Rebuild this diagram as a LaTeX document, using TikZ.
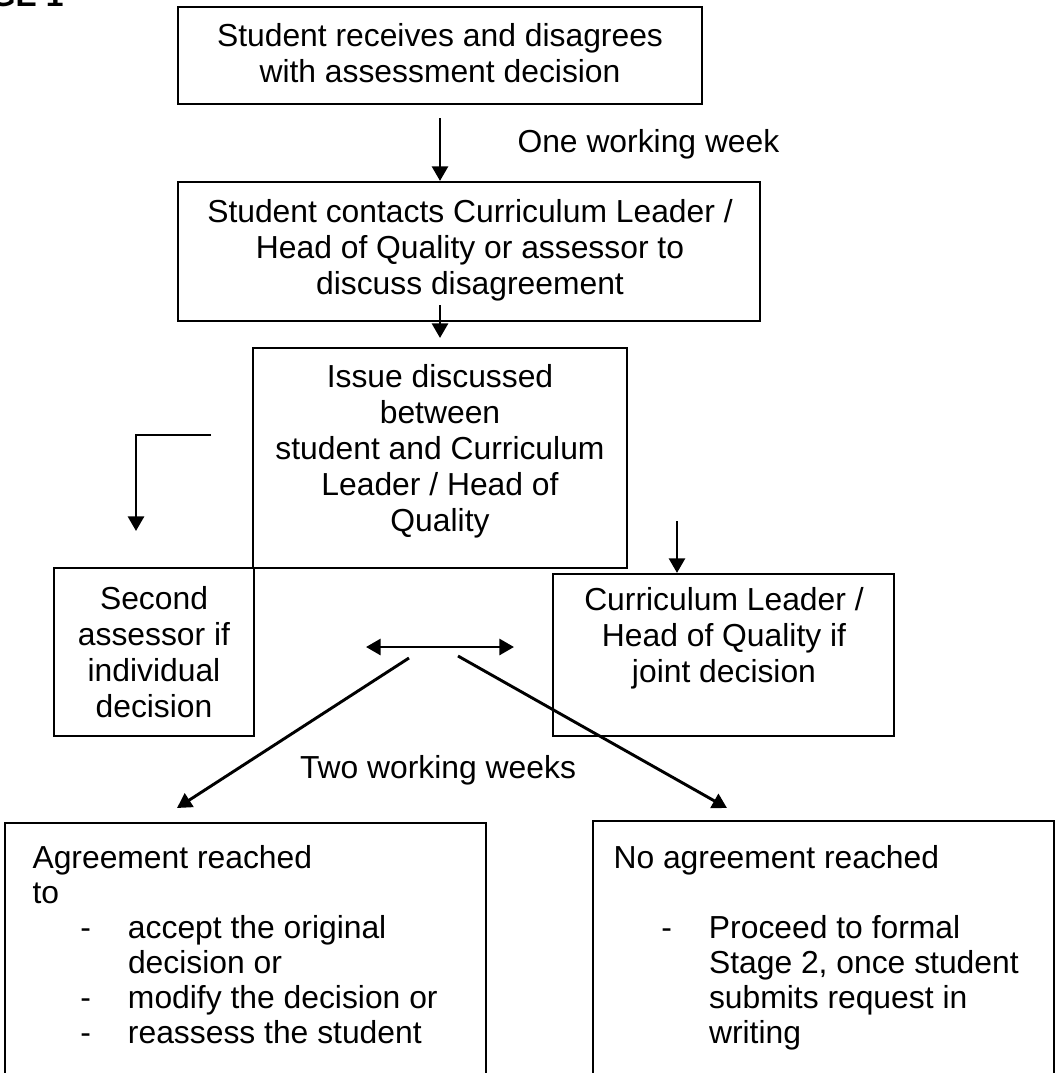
\documentclass[tikz,border=0pt]{standalone}
\usepackage{fontspec}
\setmainfont{Liberation Sans}
\usetikzlibrary{arrows.meta,fit}
\newcommand{\dashitem}{\makebox[36pt][l]{\hspace*{18pt}-}}
\newcommand{\hangline}{\hspace*{36pt}}

\begin{document}
\begin{tikzpicture}
[%%%%%%%%%%%%%%%%%%%%%%%%%%%%%%
x=0.377pt,y=-0.377pt,
every node/.style={font=\fontsize{12pt}{13.6pt}\selectfont},
box/.style={rectangle,draw=black,line width=0.8pt,inner sep=0pt},
txt/.style={align=center,inner sep=0pt},
lst/.style={align=left,inner sep=0pt,anchor=north west,font=\fontsize{12pt}{13.2pt}\selectfont},
arr/.style={line width=1.1pt,-{Triangle[length=5.5pt,width=6pt]}},
dbl/.style={line width=1.1pt,{Triangle[length=5.5pt,width=6pt]}-{Triangle[length=5.5pt,width=6pt]}},
]%%%%%%%%%%%%%%%%%%%%%%%%%%%%%%
\useasboundingbox (0,0) rectangle (1056,1073);
\clip (0,0) rectangle (1056,1073);

\node[anchor=base east,inner sep=0pt,font=\fontsize{12pt}{13.6pt}\selectfont\bfseries] (stage) at (64,6) {STAGE 1};

% boxes
\node[box,fit={(178,7) (702,104)}] (rec) {};
\node[box,fit={(178,182) (760,321)}] (con) {};
\node[box,fit={(253,348) (627,568)}] (iss) {};
\node[box,fit={(54,568) (254,736)}] (sec) {};
\node[box,fit={(553,574) (894,736)}] (cur) {};
\node[box,fit={(5,823) (486,1095)}] (agr) {};
\node[box,fit={(593,821) (1054,1095)}] (noag) {};

% texts
\node[txt] (rectxt) at (440,53.5) {Student receives and disagrees\\with assessment decision};
\node[txt] (contxt) at (470,250) {Student contacts Curriculum Leader /\\Head of Quality or assessor to\\discuss disagreement};
\node[txt] (isstxt) at (440,451.5) {Issue discussed\\between\\student and Curriculum\\Leader / Head of\\Quality};
\node[txt] (sectxt) at (154,652.5) {Second\\assessor if\\individual\\decision};
\node[txt] (curtxt) at (724,638) {Curriculum Leader /\\Head of Quality if\\joint decision};
\node[anchor=base west,inner sep=0pt] (week1) at (517,152) {One working week};
\node[anchor=base,inner sep=0pt] (week2) at (438,778) {Two working weeks};
\node[lst] (agrtxt) at (32,845) {Agreement reached\\to\\\dashitem accept the original\\\hangline decision or\\\dashitem modify the decision or\\\dashitem reassess the student};
\node[lst] (noagtxt) at (613,845) {No agreement reached\\[13.2pt]\dashitem Proceed to formal\\\hangline Stage 2, once student\\\hangline submits request in\\\hangline writing};

% arrows
\coordinate (c1) at (440,305);
\coordinate (c2) at (440,338);
\coordinate (l1) at (211,435);
\coordinate (l2) at (136,531);
\coordinate (j1) at (677,521);
\coordinate (h1) at (366,647);
\coordinate (h2) at (514,647);
\coordinate (dl1) at (409,658);
\coordinate (dl2) at (177,808);
\coordinate (dr1) at (458,656);
\coordinate (dr2) at (727,808);

\draw[arr,shorten <=4.9pt] (rec.south) -- (rec.south |- con.north);
\draw[arr] (c1) -- (c2);
\draw[arr] (l1) -| (l2);
\draw[arr] (j1) -- (j1 |- cur.north);
\draw[dbl] (h1) -- (h2);
\draw[arr] (dl1) -- (dl2);
\draw[arr] (dr1) -- (dr2);
\end{tikzpicture}
\end{document}
